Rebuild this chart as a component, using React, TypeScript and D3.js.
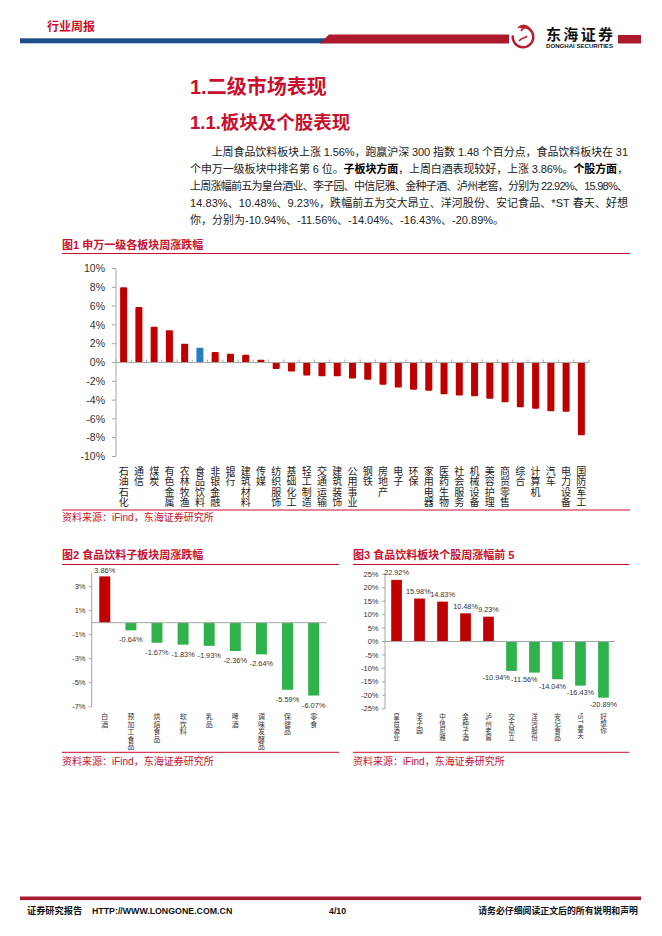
import React from "react";
import * as d3 from "d3";

// ---------- DATA ----------
const sectors = ["石油石化","通信","煤炭","有色金属","农林牧渔","食品饮料","非银金融","银行","建筑材料","传媒","纺织服饰","基础化工","轻工制造","交通运输","建筑装饰","公用事业","钢铁","房地产","电子","环保","家用电器","医药生物","社会服务","机械设备","美容护理","商贸零售","综合","计算机","汽车","电力设备","国防军工"];
const sectorChg = [8.0,5.9,3.8,3.44,1.99,1.56,1.13,0.92,0.82,0.28,-0.7,-0.95,-1.37,-1.47,-1.47,-1.7,-1.84,-2.37,-2.65,-2.9,-3.0,-3.39,-3.5,-3.6,-3.85,-4.24,-4.77,-4.91,-5.19,-5.23,-7.74];
const highlightSector = "食品饮料";
const sectorTicks = [10,8,6,4,2,0,-2,-4,-6,-8,-10];

const subCats = ["白酒","预加工食品","烘焙食品","软饮料","乳品","啤酒","调味发酵品","保健品","零食"];
const subChg = [3.86,-0.64,-1.67,-1.83,-1.93,-2.36,-2.64,-5.59,-6.07];
const subTicks = [3,1,-1,-3,-5,-7];

const stocks = ["皇台酒业","李子园","中信尼雅","金种子酒","泸州老窖","交大昂立","洋河股份","安记食品","*ST春天","好想你"];
const stockChg = [22.92,15.98,14.83,10.48,9.23,-10.94,-11.56,-14.04,-16.43,-20.89];
const stockTicks = [25,20,15,10,5,0,-5,-10,-15,-20,-25];

const paraLines = [
  ["上周食品饮料板块上涨 1.56%，跑赢沪深 300 指数 1.48 个百分点，食品饮料板块在 31"],
  ["个申万一级板块中排名第 6 位。", "*子板块方面", "，上周白酒表现较好，上涨 3.86%。", "*个股方面", "，"],
  ["上周涨幅前五为皇台酒业、李子园、中信尼雅、金种子酒、泸州老窖，分别为 22.92%、15.98%、"],
  ["14.83%、10.48%、9.23%，跌幅前五为交大昂立、洋河股份、安记食品、*ST 春天、好想"],
  ["你，分别为-10.94%、-11.56%、-14.04%、-16.43%、-20.89%。"],
];

// ---------- STYLE ----------
const FONT = "'Liberation Sans', Arial, 'Noto Sans CJK SC', sans-serif";
const CJK = "'Noto Sans CJK SC', 'Liberation Sans', sans-serif";
const RED = "#c00000";
const BLUE = "#2a7bc0";
const GREEN = "#2fb24c";
const TRED = "#c8102e";
const AXIS = "#a6a6a6";
const TXT = "#333333";

function VLabel({ x, top, text, size, pitch, fill }: any) {
  const tokens: string[] = text.match(/[\x00-\x7F]+|./gu) || [];
  let y = top;
  const els: any[] = [];
  tokens.forEach((tok, i) => {
    if (/^[\x00-\x7F]+$/.test(tok)) {
      const w = tok.length * 0.55 * size;
      els.push(
        <text key={i} transform={`translate(${x},${y}) rotate(90)`} dominantBaseline="central"
          fontSize={size} fill={fill} fontFamily={FONT}>{tok}</text>
      );
      y += w + 1;
    } else {
      els.push(
        <text key={i} x={x} y={y + pitch / 2} textAnchor="middle" dominantBaseline="central"
          fontSize={size} fill={fill} fontFamily={CJK}>{tok}</text>
      );
      y += pitch;
    }
  });
  return <g>{els}</g>;
}

// shift labels left when they collide with the label to their right
function resolveLabels(items: { cx: number; y: number; w: number }[]) {
  const out = items.map((d) => ({ ...d }));
  for (let i = out.length - 2; i >= 0; i--) {
    const a = out[i], b = out[i + 1];
    if (Math.abs(a.y - b.y) < 8) {
      const overlap = a.cx + a.w / 2 - (b.cx - b.w / 2) + 1;
      if (overlap > 0) a.cx -= overlap;
    }
  }
  return out;
}

function Fig1() {
  const x = d3.scaleBand<string>().domain(sectors).range([116, 589]).paddingInner(0.54).paddingOuter(0.27);
  const y = d3.scaleLinear().domain([-10, 10]).range([456.5, 268.5]);
  const step = x.step();
  return (
    <g>
      <text x={62} y={249} fontSize={11} fontWeight="bold" fill={TRED} fontFamily={FONT}>图1  申万一级各板块周涨跌幅</text>
      <line x1={62} x2={630} y1={253.5} y2={253.5} stroke={TRED} strokeWidth={1} />
      <line x1={116} x2={116} y1={y(10)} y2={y(-10)} stroke={AXIS} strokeWidth={1} />
      {sectorTicks.map((t) => (
        <g key={t}>
          <line x1={112} x2={116} y1={y(t)} y2={y(t)} stroke={AXIS} />
          <text x={105} y={y(t)} dy="0.35em" textAnchor="end" fontSize={10.5} fill={TXT} fontFamily={FONT}>{t}%</text>
        </g>
      ))}
      {sectors.map((s, i) => {
        const v = sectorChg[i];
        const y0 = y(Math.max(0, v));
        const h = Math.abs(y(v) - y(0));
        return (
          <rect key={s} x={x(s)} y={y0} width={x.bandwidth()} height={h} rx={1}
            fill={s === highlightSector ? BLUE : RED} />
        );
      })}
      <line x1={116} x2={589} y1={y(0)} y2={y(0)} stroke={AXIS} strokeWidth={1} />
      {d3.range(sectors.length + 1).map((i) => (
        <line key={i} x1={116 + i * step} x2={116 + i * step} y1={y(0) - 3} y2={y(0)} stroke={AXIS} />
      ))}
      {sectors.map((s) => (
        <VLabel key={s} x={(x(s) as number) + x.bandwidth() / 2} top={465.5} text={s} size={10} pitch={10.3} fill={"#222"} />
      ))}
      <line x1={62} x2={630} y1={510} y2={510} stroke={TRED} strokeWidth={1} />
      <text x={62} y={520.5} fontSize={10} fill={TRED} fontFamily={FONT}>资料来源：iFind，东海证券研究所</text>
    </g>
  );
}

function Fig2() {
  const x = d3.scaleBand<string>().domain(subCats).range([91.7, 326.7]).paddingInner(0.58).paddingOuter(0.29);
  const y = d3.scaleLinear().domain([-7, 4.15]).range([706.7, 572.9]);
  const fs = 7.4;
  const labels = resolveLabels(subCats.map((c, i) => {
    const v = subChg[i];
    const cx = (x(c) as number) + x.bandwidth() / 2;
    const top = y(Math.max(0, v));
    const bot = y(Math.min(0, v));
    const txt = `${v.toFixed(2)}%`;
    return { cx, y: v >= 0 ? top - 3.5 : bot + 12, w: txt.length * 0.53 * fs };
  }));
  return (
    <g>
      <text x={62} y={559} fontSize={11} fontWeight="bold" fill={TRED} fontFamily={FONT}>图2  食品饮料子板块周涨跌幅</text>
      <line x1={62} x2={339} y1={564.5} y2={564.5} stroke={TRED} strokeWidth={1} />
      <line x1={91.7} x2={91.7} y1={y(4.15)} y2={y(-7)} stroke={AXIS} />
      {subTicks.map((t) => (
        <g key={t}>
          <line x1={88.7} x2={91.7} y1={y(t)} y2={y(t)} stroke={AXIS} />
          <text x={85.5} y={y(t)} dy="0.35em" textAnchor="end" fontSize={7.5} fill={TXT} fontFamily={FONT}>{t}%</text>
        </g>
      ))}
      {subCats.map((c, i) => {
        const v = subChg[i];
        const top = y(Math.max(0, v));
        const bot = y(Math.min(0, v));
        return (
          <g key={c}>
            <rect x={x(c)} y={top} width={x.bandwidth()} height={bot - top} fill={v >= 0 ? RED : GREEN} />
            <text x={labels[i].cx} y={labels[i].y} textAnchor="middle" fontSize={fs} fill={TXT} fontFamily={FONT}>
              {v.toFixed(2)}%
            </text>
          </g>
        );
      })}
      <line x1={91.7} x2={326.7} y1={y(0)} y2={y(0)} stroke={AXIS} />
      {subCats.map((c) => (
        <VLabel key={c} x={(x(c) as number) + x.bandwidth() / 2} top={712.3} text={c} size={6.9} pitch={7.5} fill={TXT} />
      ))}
      <line x1={62} x2={339} y1={752.3} y2={752.3} stroke={TRED} strokeWidth={1} />
      <text x={62} y={764.5} fontSize={10} fill={TRED} fontFamily={FONT}>资料来源：iFind，东海证券研究所</text>
    </g>
  );
}

function Fig3() {
  const x = d3.scaleBand<string>().domain(stocks).range([385, 615]).paddingInner(0.535).paddingOuter(0.27);
  const y = d3.scaleLinear().domain([-25, 25]).range([708.7, 574.3]);
  const fs = 7.3;
  const labels = resolveLabels(stocks.map((c, i) => {
    const v = stockChg[i];
    const cx = (x(c) as number) + x.bandwidth() / 2;
    const top = y(Math.max(0, v));
    const bot = y(Math.min(0, v));
    const txt = `${v.toFixed(2)}%`;
    return { cx, y: v >= 0 ? top - 4.5 : bot + 9.5, w: txt.length * 0.53 * fs };
  }));
  return (
    <g>
      <text x={353} y={559} fontSize={11} fontWeight="bold" fill={TRED} fontFamily={FONT}>图3  食品饮料板块个股周涨幅前 5</text>
      <line x1={353} x2={629} y1={564.5} y2={564.5} stroke={TRED} strokeWidth={1} />
      <line x1={385} x2={385} y1={y(25)} y2={y(-25)} stroke={AXIS} />
      {stockTicks.map((t) => (
        <g key={t}>
          <line x1={382} x2={385} y1={y(t)} y2={y(t)} stroke={AXIS} />
          <text x={378.5} y={y(t)} dy="0.35em" textAnchor="end" fontSize={7.5} fill={TXT} fontFamily={FONT}>{t}%</text>
        </g>
      ))}
      {stocks.map((c, i) => {
        const v = stockChg[i];
        const top = y(Math.max(0, v));
        const bot = y(Math.min(0, v));
        return (
          <g key={c}>
            <rect x={x(c)} y={top} width={x.bandwidth()} height={bot - top} fill={v >= 0 ? RED : GREEN} />
            <text x={labels[i].cx} y={labels[i].y} textAnchor="middle" fontSize={fs} fill={TXT} fontFamily={FONT}>
              {v.toFixed(2)}%
            </text>
          </g>
        );
      })}
      <line x1={385} x2={615} y1={y(0)} y2={y(0)} stroke={AXIS} />
      {stocks.map((c) => (
        <VLabel key={c} x={(x(c) as number) + x.bandwidth() / 2} top={712.5} text={c} size={6.6} pitch={7.1} fill={TXT} />
      ))}
      <line x1={353} x2={629} y1={752.3} y2={752.3} stroke={TRED} strokeWidth={1} />
      <text x={353} y={764.5} fontSize={10} fill={TRED} fontFamily={FONT}>资料来源：iFind，东海证券研究所</text>
    </g>
  );
}

function Header() {
  const arc = d3.arc()({ innerRadius: 9, outerRadius: 11.5, startAngle: -0.3, endAngle: Math.PI * 1.55 } as any) as string;
  return (
    <g>
      <text x={47} y={30.5} fontSize={12} fontWeight="bold" fill={TRED} fontFamily={CJK}>行业周报</text>
      <rect x={20} y={38.3} width={305} height={5} fill="#1e4d8c" />
      <polygon points="320,43.5 329,34.5 509,34.5 509,43.5" fill="#ad1a2c" />
      <g transform="translate(523,37)">
        <path d={arc} fill="#b51f2e" />
        <path d="M-5,-9 C-1,-13 4,-12 6,-9 C3,-10 0,-9 -2,-6 M-4,4 C-1,0 2,2 4,-1" stroke="#b51f2e" strokeWidth={1.5} fill="none" />
      </g>
      <text x={546} y={39.5} fontSize={15} fontWeight="bold" fill="#111" fontFamily="'Noto Sans CJK SC', serif" textLength={67} lengthAdjust="spacing">东海证券</text>
      <text x={546} y={48} fontSize={5.5} fontWeight="bold" fill="#111" fontFamily={FONT} textLength={67} lengthAdjust="spacingAndGlyphs">DONGHAI SECURITIES</text>
      <rect x={618} y={35} width={23} height={8.5} fill="#ad1a2c" />
    </g>
  );
}

function Body() {
  const starts = [211.7, 190, 190, 190, 190];
  const ends = [628, 628, 628, 628, null];
  return (
    <g>
      <text x={190} y={93.7} fontSize={20} fontWeight="bold" fill={TRED} fontFamily={FONT}>1.二级市场表现</text>
      <text x={190} y={129} fontSize={18.5} fontWeight="bold" fill={TRED} fontFamily={FONT}>1.1.板块及个股表现</text>
      {paraLines.map((segs, i) => {
        const yy = 151.5 + i * 17 + 4;
        const e = ends[i];
        const props: any = e ? { textLength: e - starts[i], lengthAdjust: "spacing" } : {};
        return (
          <text key={i} x={starts[i]} y={yy} fontSize={11} fill="#222" fontFamily={FONT} {...props}>
            {segs.map((s, j) =>
              s.startsWith("*") && s.length > 1 && !s.startsWith("*ST") ? (
                <tspan key={j} fontWeight="bold" fill="#000">{s.slice(1)}</tspan>
              ) : (
                <tspan key={j}>{s}</tspan>
              )
            )}
          </text>
        );
      })}
    </g>
  );
}

function Footer() {
  return (
    <g>
      <rect x={20} y={896.5} width={621} height={3.6} fill="#a51c30" />
      <text x={27} y={913.5} fontSize={9.2} fontWeight="bold" fill="#111" fontFamily={FONT}>证券研究报告</text>
      <text x={92} y={913.5} fontSize={8.8} fill="#111" fontWeight="bold" fontFamily={FONT}>HTTP://WWW.LONGONE.COM.CN</text>
      <text x={329} y={913.5} fontSize={8.8} fill="#111" fontWeight="bold" fontFamily={FONT}>4/10</text>
      <text x={638} y={913.5} textAnchor="end" fontSize={8.9} fill="#111" fontWeight="bold" fontFamily={FONT}>请务必仔细阅读正文后的所有说明和声明</text>
    </g>
  );
}

export default function App() {
  return (
    <svg width={662} height={936} viewBox="0 0 662 936"
      style={{ position: "absolute", left: 0, top: 0, background: "#fff" }}>
      <rect width={662} height={936} fill="#fff" />
      <Header />
      <Body />
      <Fig1 />
      <Fig2 />
      <Fig3 />
      <Footer />
    </svg>
  );
}
